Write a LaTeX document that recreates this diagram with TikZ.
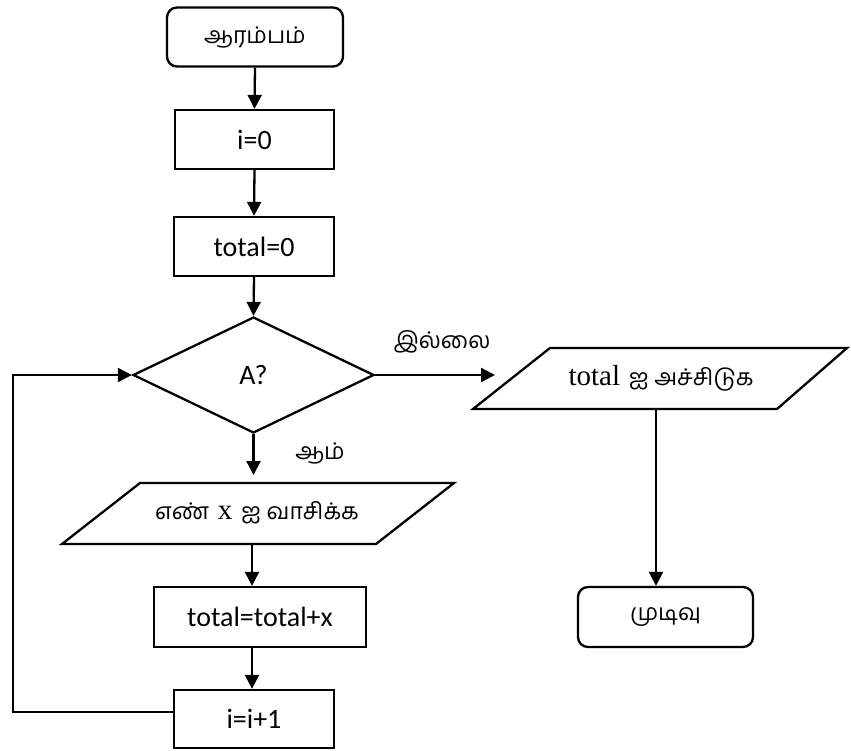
\documentclass[tikz,border=0pt]{standalone}
\usepackage{fontspec}
\usetikzlibrary{arrows.meta,shapes.geometric}
\newfontfamily\tafont[Script=Tamil]{Hind Madurai}
\newfontfamily\calibfont{Carlito}
\newfontfamily\tmsfont{Liberation Serif}
\tikzset{
  box/.style={draw, line width=2.3pt, minimum width=#1, inner sep=0pt, font=\calibfont\fontsize{28}{32}\selectfont},
  rbox/.style={draw, line width=2.3pt, rounded corners=10pt, minimum width=#1, inner sep=0pt, font=\tafont\fontsize{23}{27}\selectfont},
  txt/.style={inner sep=0pt},
  conn/.style={line width=2.3pt, -{Triangle[length=14pt,width=14pt]}},
  plain/.style={line width=2.3pt},
}
\begin{document}
\begin{tikzpicture}[x=1pt,y=-1pt]
\useasboundingbox (0,0) rectangle (851,751);
% nodes
\node[rbox=176pt, minimum height=59pt] (start) at (255,37) {ஆரம்பம்};
\node[box=159pt, minimum height=59pt] (i0) at (254.5,139.5) {i=0};
\node[box=160pt, minimum height=59pt] (t0) at (254,246.5) {total=0};
\node[draw, diamond, line width=2.3pt, minimum width=241pt, minimum height=116pt, inner sep=0pt, aspect=2.08, font=\calibfont\fontsize{28}{32}\selectfont] (d) at (253.5,375) {A?};
% print parallelogram
\draw[plain] (550,348) -- (847,348) -- (777,409) -- (473,409) -- cycle;
\node[txt, font=\fontsize{29}{32}\selectfont] (p1) at (661,378) {{\tmsfont total} {\tafont\fontsize{23}{27}\selectfont ஐ அச்சிடுக}};
\coordinate (p1in) at (495,375);
\coordinate (p1b) at (656,409);
\node[rbox=175pt, minimum height=60pt] (end) at (665.5,617) {முடிவு};
% read parallelogram
\draw[plain] (140,483) -- (454,483) -- (376,544) -- (62,544) -- cycle;
\node[txt, font=\fontsize{29}{32}\selectfont] (p2) at (257,513) {{\tafont\fontsize{23}{27}\selectfont எண்} {\tmsfont x} {\tafont\fontsize{23}{27}\selectfont ஐ வாசிக்க}};
\coordinate (p2in) at (253.5,475);
\coordinate (p2b) at (252,544);
\node[box=212pt, minimum height=60pt] (ttx) at (260,617) {total=total+x};
\node[box=160pt, minimum height=58pt] (ii) at (254,719) {i=i+1};
% labels
\node[txt, font=\tafont\fontsize{23}{27}\selectfont] (no) at (442,342) {இல்லை};
\node[txt, font=\tafont\fontsize{23}{27}\selectfont] (yes) at (320,453) {ஆம்};
% loop corners
\coordinate (lp1) at (13,712);
\coordinate (lp2) at (13,375);
\coordinate (iiw) at (174,712);
% connectors
\draw[conn] (start.south) -- (i0.north);
\draw[conn] (i0.south) -- (t0.north);
\draw[conn] (t0.south) -- (d.north);
\draw[conn] (d.east) -- (p1in);
\draw[conn] (p1b) -- (p1b |- end.north);
\draw[conn] (d.south) -- (p2in);
\draw[conn] (p2b) -- (p2b |- ttx.north);
\draw[conn] (p2b |- ttx.south) -- (p2b |- ii.north);
\draw[conn] (iiw) -- (lp1) -- (lp2) -- (d.west);
\end{tikzpicture}
\end{document}
